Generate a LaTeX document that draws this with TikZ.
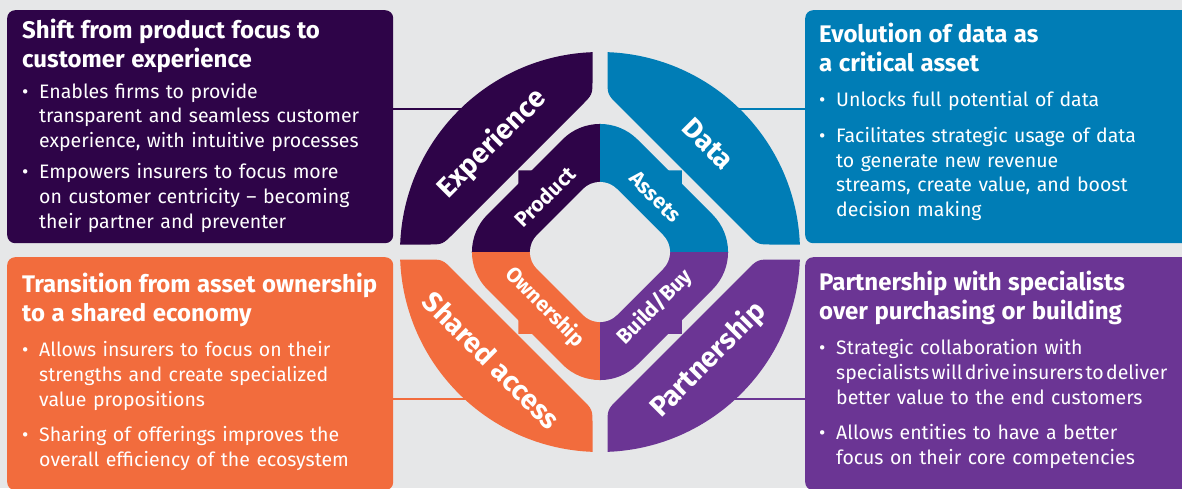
\documentclass[tikz,border=0pt]{standalone}
\usepackage{fontspec}
\setmainfont{Fira Sans}
\usepackage{tikz}
\usetikzlibrary{positioning}

\definecolor{ink}{HTML}{2E0448}
\definecolor{sea}{HTML}{007DB6}
\definecolor{tang}{HTML}{F26C3D}
\definecolor{plum}{HTML}{6B3594}
\definecolor{mist}{HTML}{E6E7E8}

\newcommand{\itmgap}{11pt}
\newcommand{\ttl}[1]{{\fontsize{24}{29}\selectfont\bfseries #1\par}}
\newcommand{\itm}[1]{\par\vspace{\itmgap}\hangindent=17pt\hangafter=1\noindent\hbox to 17pt{\textbullet\hfil}#1\par}

\begin{document}
\begin{tikzpicture}
  [x=1pt,y=1pt,
   box/.style={anchor=north west,minimum height=233pt,rounded corners=8pt,inner sep=0pt},
   txt/.style={anchor=base west,text width=420pt,inner sep=0pt,text=white,
     font=\fontsize{19.5}{24.7}\selectfont},
   big/.style={text=white,font=\fontsize{28}{30}\selectfont\bfseries,inner sep=0pt},
   small/.style={text=white,font=\fontsize{21}{22}\selectfont\bfseries,inner sep=0pt}]
  \useasboundingbox (0,0) rectangle (1182,-488);
  \fill[mist] (0,0) rectangle (1182,-488);

  \node[box,fill=ink,minimum width=386pt] (b1) at (7,-10) {};
  \node[box,fill=sea,minimum width=400pt] (b2) at (805,-10) {};
  \node[box,fill=tang,minimum width=386pt] (b3) at (7,-257) {};
  \node[box,fill=plum,minimum width=400pt] (b4) at (805,-257) {};

  \node[txt] (t1) at (22,-38) {\renewcommand{\itmgap}{6.5pt}%
    \ttl{Shift from product focus to\newline customer experience}%
    \itm{Enables firms to provide\newline transparent and seamless customer\newline experience, with intuitive processes}%
    \itm{Empowers insurers to focus more\newline on customer centricity -- becoming\newline their partner and preventer}};
  \node[txt] (t2) at (819,-42) {\ttl{Evolution of data as\newline a critical asset}%
    \itm{Unlocks full potential of data}%
    \itm{Facilitates strategic usage of data\newline to generate new revenue\newline streams, create value, and boost\newline decision making}};
  \node[txt] (t3) at (22,-292) {\ttl{Transition from asset ownership\newline to a shared economy}%
    \itm{Allows insurers to focus on their\newline strengths and create specialized\newline value propositions}%
    \itm{Sharing of offerings improves the\newline overall efficiency of the ecosystem}};
  \node[txt] (t4) at (819,-290) {\ttl{Partnership with specialists\newline over purchasing or building}%
    \itm{Strategic collaboration with\newline {\spaceskip=0.12em\relax specialists will drive insurers to deliver}\newline better value to the end customers}%
    \itm{Allows entities to have a better\newline focus on their core competencies}};

  \coordinate (e1) at (470,-109);
  \coordinate (e2) at (730,-109);
  \coordinate (e3) at (470,-399);
  \coordinate (e4) at (730,-399);
  \foreach \from/\to/\col in {b1.east/e1/ink,b2.west/e2/sea,b3.east/e3/tang,b4.west/e4/plum}
    \draw[\col,line width=2pt] (\from |- \to) -- (\to);

  \begin{scope}[shift={(600,-252)}]
    \foreach \col/\ang in {ink/0,sea/-90,tang/90,plum/180}{
      \begin{scope}[rotate=\ang]
        \fill[\col] (92.15:200) arc[start angle=92.15,end angle=177.85,radius=200]
          -- (-172.5,7.5) .. controls (-157.5,7.5) .. (-146.9,18.1)
          -- (-18.1,146.9) .. controls (-7.5,157.5) .. (-7.5,172.5) -- cycle;
        \begin{scope}
          \clip (0,0) rectangle (-160,160);
          \fill[\col,rounded corners=53pt] (75,75) -- (0,150) -- (-150,0) -- (0,-150) -- (150,0) -- cycle;
        \end{scope}
        \fill[\col] (-81.75,81.75) -- ++(17,0) -- ++(-17,-17) -- cycle;
      \end{scope}
    }
    \fill[mist,rounded corners=24pt] (40,40) -- (0,80) -- (-80,0) -- (0,-80) -- (80,0) -- cycle;

    \node[big,rotate=45] (n1) at (135:153) {Experience};
    \node[big,rotate=-45] (n2) at (45:153) {Data};
    \node[big,rotate=-45] (n3) at (225:153) {Shared access};
    \node[big,rotate=45] (n4) at (315:153) {Partnership};
    \node[small,rotate=45] (m1) at (135:78) {Product};
    \node[small,rotate=-45] (m2) at (45:78) {Assets};
    \node[small,rotate=-45] (m3) at (225:78) {Ownership};
    \node[small,rotate=45] (m4) at (315:78) {Build/Buy};
  \end{scope}
\end{tikzpicture}
\end{document}
